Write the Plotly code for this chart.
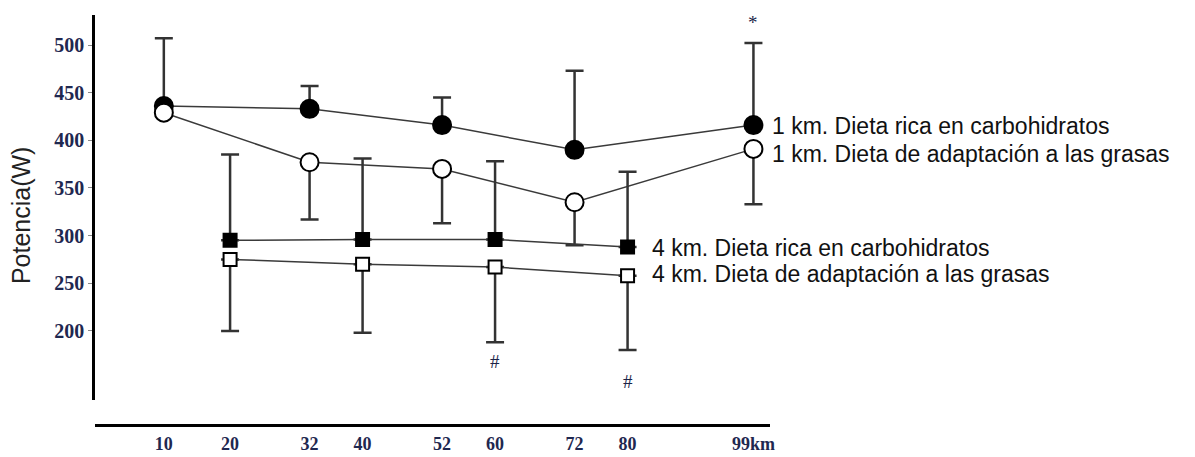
import plotly.graph_objects as go

# ---- data ----
km_1 = [10, 32, 52, 72, 99]
carb_1km = [436, 433, 416, 390, 416]
carb_1km_err = [71, 24, 29, 83, 86]
fat_1km = [429, 377, 370, 335, 391]
fat_1km_err = [None, 60, 57, 45, 58]

km_4 = [20, 40, 60, 80]
carb_4km = [295, 296, 296, 288]
carb_4km_err = [90, 85, 82, 79]
fat_4km = [275, 270, 267, 258]
fat_4km_err = [75, 72, 79, 78]

x_ticks = [10, 20, 32, 40, 52, 60, 72, 80, 99]
x_labels = ["10", "20", "32", "40", "52", "60", "72", "80", "99km"]
y_ticks = [200, 250, 300, 350, 400, 450, 500]

series_labels = [
    "1 km. Dieta rica en carbohidratos",
    "1 km. Dieta de adaptación a las grasas",
    "4 km. Dieta rica en carbohidratos",
    "4 km. Dieta de adaptación a las grasas",
]

sig_marks = ["*", "#", "#"]
sig_x = [99, 60, 80]
sig_y = [524, 168, 147]

# ---- figure ----
fig = go.Figure()
LINE = "#3a3a3a"
ERR = "#333333"


def add(xs, ys, err, symbol, fill, up):
    zeros = [0 if e is not None else None for e in err]
    ey = dict(type="data", symmetric=False, color=ERR, thickness=2.5, width=9,
              array=err if up else zeros, arrayminus=zeros if up else err)
    fig.add_trace(go.Scatter(
        x=xs, y=ys, mode="lines+markers",
        line=dict(color=LINE, width=1.5),
        marker=dict(symbol=symbol, size=18 if symbol == "circle" else 13,
                    color=fill, line=dict(color="black", width=2)),
        error_y=ey, showlegend=False, cliponaxis=False,
    ))


add(km_1, carb_1km, carb_1km_err, "circle", "black", True)
add(km_1, fat_1km, fat_1km_err, "circle", "white", False)
add(km_4, carb_4km, carb_4km_err, "square", "black", True)
add(km_4, fat_4km, fat_4km_err, "square", "white", False)

label_font = dict(family="Liberation Sans, Arial, sans-serif", size=23, color="#111111")
label_pos = [
    (km_1[-1], carb_1km[-1], 17, -1),
    (km_1[-1], fat_1km[-1], 17, -5),
    (km_4[-1], carb_4km[-1], 22, -1),
    (km_4[-1], fat_4km[-1], 22, 2),
]
for txt, (xx, yy, xs, ys) in zip(series_labels, label_pos):
    fig.add_annotation(x=xx, y=yy, xref="x", yref="y", text=txt, showarrow=False,
                       xanchor="left", yanchor="middle", xshift=xs, yshift=ys,
                       font=label_font)

for m, xx, yy in zip(sig_marks, sig_x, sig_y):
    fig.add_annotation(x=xx, y=yy, xref="x", yref="y", text=m, showarrow=False,
                       xanchor="center", yanchor="middle",
                       font=dict(family="Liberation Serif, serif", size=19, color="#1b2448"))

fig.add_annotation(x=-0.1096, y=0.512, xref="paper", yref="paper", text="Potencia(W)",
                   textangle=-90, showarrow=False, xanchor="center", yanchor="middle",
                   font=dict(family="Liberation Sans, Arial, sans-serif", size=25, color="#222222"))

y_tick_font = dict(family="Liberation Serif, Times New Roman, serif", size=20,
                   color="#1f2850", weight="bold")
x_tick_font = dict(family="Liberation Serif, Times New Roman, serif", size=18,
                   color="#1f2850", weight="bold")

fig.update_layout(
    width=1187, height=449,
    margin=dict(l=87, r=425, t=7, b=32, autoexpand=False),
    paper_bgcolor="white", plot_bgcolor="white",
    xaxis=dict(range=[-0.39, 101.5], tickvals=x_ticks, ticktext=x_labels,
               showgrid=False, zeroline=False, showline=True, linecolor="black",
               linewidth=3, ticks="", anchor="free", position=0, automargin=False,
               tickfont=x_tick_font, ticklabelstandoff=1),
    yaxis=dict(range=[127.5, 531.5], domain=[0.061, 1], tickvals=y_ticks,
               showgrid=False, zeroline=False, showline=True, linecolor="black",
               linewidth=2.5, ticks="outside", ticklen=4, tickcolor="#888888",
               tickwidth=1, tickfont=y_tick_font, automargin=False),
)

fig.write_html("out.html")
